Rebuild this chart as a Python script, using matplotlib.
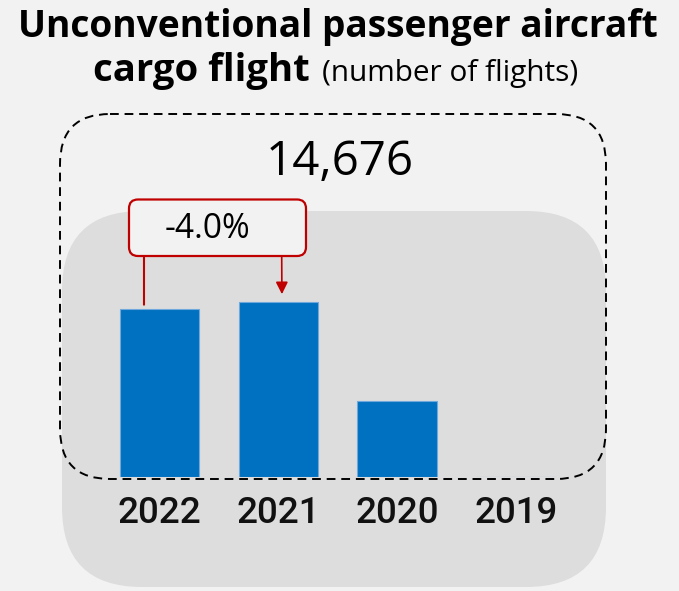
import matplotlib
matplotlib.use("Agg")
import matplotlib.pyplot as plt
from matplotlib.patches import FancyBboxPatch

# ---- data ----
years = ["2022", "2021", "2020", "2019"]
flights = [14676, 15288, 6600, 0]
total_label = "14,676"
change_label = "-4.0%"
title_line1 = "Unconventional passenger aircraft"
title_bold2 = "cargo flight"
title_reg2 = "(number of flights)"

W, H = 679, 591
BG = "#f2f2f2"
fig = plt.figure(figsize=(W / 100, H / 100), dpi=100, facecolor=BG)

# background axes in pixel units (y downward)
bg = fig.add_axes([0, 0, 1, 1])
bg.set_xlim(0, W)
bg.set_ylim(H, 0)
bg.axis("off")
bg.set_zorder(0)

def rbox(x0, y0, x1, y1, r, **kw):
    p = FancyBboxPatch((x0 + r, y0 + r), (x1 - x0) - 2 * r, (y1 - y0) - 2 * r,
                       boxstyle=f"round,pad={r},rounding_size={r}", **kw)
    bg.add_patch(p)
    return p

rbox(62, 211, 606, 587, 80, facecolor="#dddddd", edgecolor="none", zorder=1)
rbox(60, 114, 606, 479, 50, facecolor="none", edgecolor="black",
     linewidth=1.4, linestyle=(0, (4.5, 3)), zorder=5)
rbox(129, 199.5, 306, 256, 9, facecolor=BG, edgecolor="#c00000",
     linewidth=1.6, zorder=3)

# bar axes
px_per_val = 168.3 / 14676.0
ax_left, ax_right = 100, 575.6
ax_bottom, ax_top = 477, 200
ax = fig.add_axes([ax_left / W, (H - ax_bottom) / H,
                   (ax_right - ax_left) / W, (ax_bottom - ax_top) / H])
ax.set_zorder(2)
ax.patch.set_alpha(0)
ax.set_xlim(-0.5, len(years) - 0.5)
ax.set_ylim(0, (ax_bottom - ax_top) / px_per_val)
x = list(range(len(years)))
ax.bar(x, flights, width=0.67, color="#0070c0", edgecolor="#6fa8dc",
       linewidth=0.8, zorder=3)
for s in ax.spines.values():
    s.set_visible(False)
ax.set_yticks([])
ax.set_xticks(x)
ax.set_xticklabels(years, fontfamily="Roboto", fontsize=26.5,
                   fontweight="medium", color="#111111")
ax.tick_params(axis="x", length=0, pad=14)

# annotation connectors
gap = 4 / px_per_val
ax.annotate("", xy=(0 - 0.13, flights[0] + gap), xycoords="data",
            xytext=(144, 256), textcoords=bg.transData,
            arrowprops=dict(arrowstyle="-", color="#c00000", lw=1.5,
                            shrinkA=0, shrinkB=0), zorder=4)
ax.annotate("", xy=(1 + 0.03, flights[1] + 7.5 / px_per_val), xycoords="data",
            xytext=(281.7, 256), textcoords=bg.transData,
            arrowprops=dict(arrowstyle="-|>,head_length=0.6,head_width=0.3",
                            mutation_scale=12, color="#c00000", lw=1.2,
                            shrinkA=0, shrinkB=0), zorder=4)

# texts
fig.canvas.draw()
r = fig.canvas.get_renderer()

def fit(t, w):
    bb = t.get_window_extent(r)
    t.set_fontsize(t.get_fontsize() * w / bb.width)

t1 = bg.text(338, 37, title_line1, ha="center", va="baseline",
             fontfamily="Open Sans", fontweight="bold", fontsize=28, color="black")
fit(t1, 640)
t2 = bg.text(93, 81, title_bold2, ha="left", va="baseline",
             fontfamily="Open Sans", fontweight="bold", fontsize=28, color="black")
fit(t2, 216)
t3 = bg.text(322, 81, title_reg2, ha="left", va="baseline",
             fontfamily="Open Sans", fontsize=20, color="black")
fit(t3, 256)
t4 = bg.text(340, 175, total_label, ha="center", va="baseline",
             fontfamily="Open Sans", fontsize=34, color="black", zorder=6)
fit(t4, 148)
t5 = bg.text(207, 238, change_label, ha="center", va="baseline",
             fontfamily="Open Sans", fontsize=23, color="black", zorder=6)
fit(t5, 86)

fig.savefig("out.png", dpi=100, facecolor=BG)
